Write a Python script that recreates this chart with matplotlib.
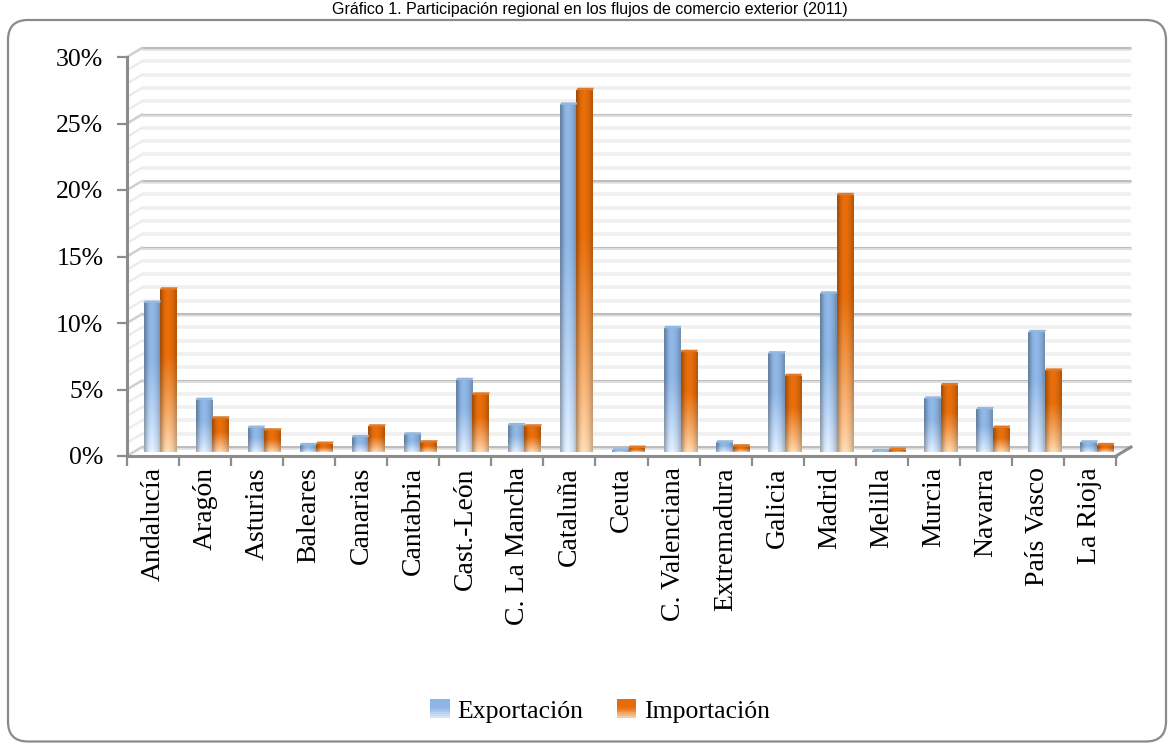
import numpy as np
import matplotlib
matplotlib.use("Agg")
import matplotlib.pyplot as plt
import matplotlib.transforms as mtransforms
from matplotlib.patches import Rectangle, FancyBboxPatch, Polygon
from matplotlib.legend_handler import HandlerBase

# ---------------- data ----------------
categories = ["Andalucía", "Aragón", "Asturias", "Baleares", "Canarias", "Cantabria",
              "Cast.-León", "C. La Mancha", "Cataluña", "Ceuta", "C. Valenciana",
              "Extremadura", "Galicia", "Madrid", "Melilla", "Murcia", "Navarra",
              "País Vasco", "La Rioja"]
exportacion = [11.2, 3.9, 1.8, 0.5, 1.1, 1.3, 5.4, 2.0, 26.1, 0.1, 9.3,
               0.7, 7.4, 11.9, 0.05, 4.0, 3.2, 9.0, 0.7]
importacion = [12.2, 2.5, 1.6, 0.6, 1.9, 0.7, 4.3, 1.9, 27.2, 0.3, 7.5,
               0.4, 5.7, 19.3, 0.15, 5.0, 1.8, 6.1, 0.5]
series_names = ["Exportación", "Importación"]
yticks = [0, 5, 10, 15, 20, 25, 30]
ytick_labels = ["0%", "5%", "10%", "15%", "20%", "25%", "30%"]
title = "Gráfico 1. Participación regional en los flujos de comercio exterior (2011)"

# ---------------- style ----------------
W, H = 1168, 743
SERIF = ["Liberation Serif", "DejaVu Serif"]
blue_top = np.array([141, 180, 226]) / 255
blue_bot = np.array([222, 236, 253]) / 255
orng_top = np.array([228, 108, 10]) / 255
orng_bot = np.array([253, 216, 176]) / 255

fig = plt.figure(figsize=(W / 100, H / 100), dpi=100)

# rounded border
border = FancyBboxPatch((8, 1.5), 1158, 721.5,
                        boxstyle="round,pad=0,rounding_size=20",
                        transform=mtransforms.IdentityTransform(),
                        facecolor="none", edgecolor="#8a8a8a", linewidth=1.6,
                        zorder=0)
fig.patches.append(border)

# title at the very top (above the border)
fig.text(0.505, 1 - 14 / H, title, ha="center", va="baseline",
         fontsize=11.5, family=["Liberation Sans", "DejaVu Sans"], color="black")

ax_l, ax_r, ax_t, ax_b = 127, 1116, 57, 456
ax = fig.add_axes([ax_l / W, (H - ax_b) / H, (ax_r - ax_l) / W, (ax_b - ax_t) / H])
n = len(categories)
ax.set_xlim(-0.5, n - 0.5)
ax.set_ylim(0, 30)
ax.patch.set_alpha(0)

sx = n / (ax_r - ax_l)      # data units per pixel (x)
sy = 30 / (ax_b - ax_t)     # data units per pixel (y)

# 3D depth offsets (pixels)
bdx, bdy = 15, 9     # back wall
mdx, mdy = 7, 4      # bars (mid depth)

# back wall gridlines + side wall diagonals
for v in range(0, 31):
    major = (v % 5 == 0)
    yb = v + bdy * sy
    x0 = -0.5 + bdx * sx
    x1 = n - 0.5 + bdx * sx
    if major:
        ax.plot([x0, x1], [yb, yb], color="#bdbdbd", lw=2.2, zorder=1,
                clip_on=False, solid_capstyle="butt")
        ax.plot([x0, x1], [yb - 1.6 * sy, yb - 1.6 * sy], color="#e4e4e4", lw=1.2,
                zorder=1, clip_on=False, solid_capstyle="butt")
        ax.plot([-0.5, x0], [v, yb], color="#cfcfcf", lw=1.8, zorder=1, clip_on=False)
    else:
        ax.plot([x0, x1], [yb, yb], color="#f0f0f0", lw=2.6, zorder=1,
                clip_on=False, solid_capstyle="butt")
        ax.plot([-0.5, x0], [v, yb], color="#ebebeb", lw=1.6, zorder=1, clip_on=False)

# right floor diagonal
ax.plot([n - 0.5, n - 0.5 + bdx * sx], [0, bdy * sy], color="#8c8c8c", lw=2.2,
        zorder=2, clip_on=False)


def bar_image(top, bot, nrows=80):
    t = np.linspace(0, 1, nrows)[:, None]
    f = np.clip(t / 0.6, 0, 1) ** 0.85
    col = bot[None, :] + (top - bot)[None, :] * f      # nrows x 3
    prof = np.array([0.72, 0.86, 0.97, 1.02, 1.03, 1.0, 0.96, 0.9, 0.8])
    img = col[:, None, :] * prof[None, :, None]
    return np.clip(img, 0, 1)


img_b = bar_image(blue_top, blue_bot)
img_o = bar_image(orng_top, orng_bot)

bw = 16.5 * sx
y0 = mdy * sy
for i in range(n):
    cx = i + mdx * sx
    for val, img, top, left in ((exportacion[i], img_b, blue_top, cx - bw),
                                (importacion[i], img_o, orng_top, cx)):
        ax.imshow(img, extent=[left, left + bw, y0, y0 + val], origin="lower",
                  aspect="auto", interpolation="bilinear", zorder=3)
        cap_dx, cap_dy = 3.5 * sx, 2.5 * sy
        capc = np.clip(top * 0.85 + 0.12, 0, 1)
        ax.add_patch(Polygon([[left, y0 + val], [left + bw, y0 + val],
                              [left + bw + cap_dx * 0.3, y0 + val + cap_dy],
                              [left + cap_dx * 0.3, y0 + val + cap_dy]],
                             closed=True, facecolor=capc, edgecolor="none",
                             zorder=4, clip_on=False))

ax.set_xlim(-0.5, n - 0.5)
ax.set_ylim(0, 30)

for s in ["top", "right"]:
    ax.spines[s].set_visible(False)
for s in ["left", "bottom"]:
    ax.spines[s].set_color("#8c8c8c")
    ax.spines[s].set_linewidth(2.2)
    ax.spines[s].set_zorder(5)

ax.set_yticks(yticks)
ax.set_yticklabels(ytick_labels, fontsize=18.5, family=SERIF)
ax.tick_params(axis="y", direction="out", length=7, width=1.6, color="#8c8c8c", pad=10)

ax.set_xticks(np.arange(-0.5, n, 1.0))
ax.set_xticklabels([])
ax.tick_params(axis="x", which="major", direction="out", length=7, width=1.6,
               color="#8c8c8c")
ax.set_xticks(np.arange(n), minor=True)
ax.set_xticklabels(categories, minor=True, rotation=90, fontsize=20, family=SERIF,
                   va="top", ha="center")
ax.tick_params(axis="x", which="minor", length=0, pad=8)


class GradHandler(HandlerBase):
    def __init__(self, top, bot):
        super().__init__()
        self.top, self.bot = top, bot

    def create_artists(self, legend, orig_handle, xdescent, ydescent, width, height,
                       fontsize, trans):
        arts = []
        k = 10
        for j in range(k):
            t = (j + 0.5) / k
            f = min(t / 0.6, 1) ** 0.85
            c = self.bot + (self.top - self.bot) * f
            arts.append(Rectangle((-xdescent, -ydescent + height * j / k), width,
                                  height / k * 1.05, facecolor=c, edgecolor="none",
                                  transform=trans))
        return arts


h1 = Rectangle((0, 0), 1, 1)
h2 = Rectangle((0, 0), 1, 1)
fig.legend([h1, h2], series_names, loc="center",
           bbox_to_anchor=(600 / W, (H - 711) / H), ncol=2, frameon=False,
           prop={"family": SERIF, "size": 18.5},
           handler_map={h1: GradHandler(blue_top, blue_bot),
                        h2: GradHandler(orng_top, orng_bot)},
           handlelength=0.75, handleheight=0.75, handletextpad=0.3, columnspacing=1.3)

fig.savefig("out.png", dpi=100)
